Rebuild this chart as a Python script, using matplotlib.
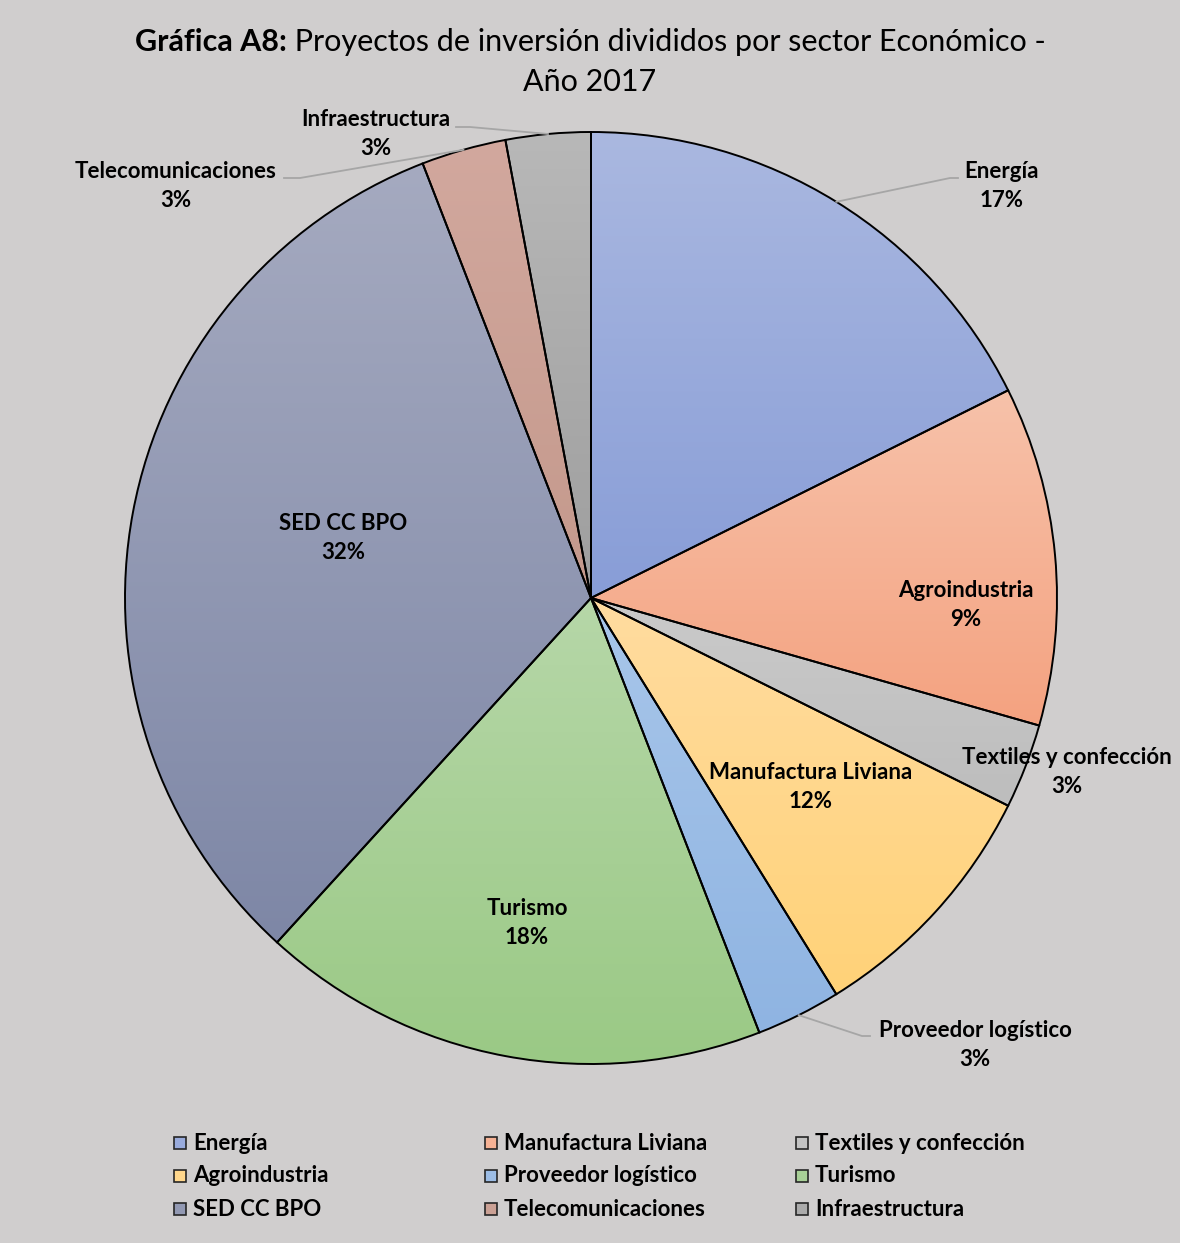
import matplotlib.pyplot as plt
import numpy as np
from matplotlib.colors import to_rgb
from matplotlib.patches import Rectangle

plt.rcParams['font.family'] = ['Lato', 'DejaVu Sans']

# categorias (orden de la leyenda) y numero de proyectos
categories = ['Energía', 'Manufactura Liviana', 'Textiles y confección',
              'Agroindustria', 'Proveedor logístico', 'Turismo',
              'SED CC BPO', 'Telecomunicaciones', 'Infraestructura']
values = [6, 4, 1, 3, 1, 6, 11, 1, 1]

# etiquetas que aparecen sobre cada porcion
slice_names = ['Energía', 'Agroindustria', 'Textiles y confección',
               'Manufactura Liviana', 'Proveedor logístico', 'Turismo',
               'SED CC BPO', 'Telecomunicaciones', 'Infraestructura']
slice_pcts = ['17%', '9%', '3%', '12%', '3%', '18%', '32%', '3%', '3%']

# degradado vertical de cada porcion (arriba, abajo)
top_colors = ['#AAB8E0', '#F7C2AA', '#CACACA', '#FFDCA0', '#A8C6EA',
              '#B6D7A8', '#A5AAC0', '#D2A89E', '#B8B8B8']
bottom_colors = ['#889DD7', '#F4A280', '#BDBDBD', '#FFD278', '#8FB4E2',
                 '#9AC985', '#7E87A6', '#C4998C', '#9E9E9E']

bg = '#D0CECE'
W, H = 1180, 1243

fig = plt.figure(figsize=(W / 100, H / 100), dpi=100, facecolor=bg)
ax = fig.add_axes([0, 0, 1, 1])
ax.set_facecolor(bg)

cx, cy, R = 591, 645, 466
wedges, _ = ax.pie(values, center=(cx, cy), radius=R, startangle=90,
                   counterclock=False, colors=top_colors,
                   wedgeprops=dict(edgecolor='black', linewidth=1.4))

# relleno con degradado recortado a cada porcion
t = np.linspace(0, 1, 256)[:, None, None]
for w, c1, c2 in zip(wedges, top_colors, bottom_colors):
    img = np.array(to_rgb(c1)) * (1 - t) + np.array(to_rgb(c2)) * t
    bb = w.get_path().get_extents()
    im = ax.imshow(img, extent=(bb.x0, bb.x1, bb.y0, bb.y1), origin='upper',
                   aspect='auto', interpolation='bilinear', zorder=1)
    im.set_clip_path(w)
    w.set_facecolor('none')
    w.set_zorder(2)

lab_font = dict(fontsize=16, fontweight='bold', color='black',
                ha='center', va='center', linespacing=1.5, zorder=4)

# posicion de cada etiqueta (pixeles) y codo de la linea guia
label_pos = [(1002, 1057), (966, 638), (1067, 471), (811, 456), (975, 198),
             (527, 320), (343, 705), (176, 1057), (376, 1109)]
leader = [(950, 1065, 958), None, None, None, (862, 207, 870),
          None, None, (300, 1065, 284), (470, 1116, 456)]

for i, w in enumerate(wedges):
    x, y = label_pos[i]
    ax.text(x, y, slice_names[i] + '\n' + slice_pcts[i], **lab_font)
    if leader[i] is not None:
        ang = np.deg2rad((w.theta1 + w.theta2) / 2)
        ax_, ay_ = cx + R * np.cos(ang), cy + R * np.sin(ang)
        ex, ey, hx = leader[i]
        ax.plot([ax_, ex, hx], [ay_, ey, ey], color='#A6A6A6', lw=1.3,
                zorder=3, solid_joinstyle='miter')

# titulo
r = fig.canvas.get_renderer()
t1 = ax.text(0, 1201, 'Gráfica A8:', fontsize=22, fontweight='bold',
             va='center', ha='left')
t2 = ax.text(0, 1201, ' Proyectos de inversión divididos por sector Económico -',
             fontsize=22, va='center', ha='left')
w1 = t1.get_window_extent(r).width
w2 = t2.get_window_extent(r).width
x0 = 590 - (w1 + w2) / 2
t1.set_x(x0)
t2.set_x(x0 + w1)
ax.text(590, 1161, 'Año 2017', fontsize=22, ha='center', va='center')

# leyenda
leg_x = [180, 491, 802]
leg_y = [100, 67, 34]
leg_colors = [np.array(to_rgb(a)) * 0.5 + np.array(to_rgb(b)) * 0.5
              for a, b in zip(top_colors, bottom_colors)]
for i, name in enumerate(categories):
    lx, ly = leg_x[i % 3], leg_y[i // 3]
    ax.add_patch(Rectangle((lx - 6, ly - 6), 12, 12, facecolor=leg_colors[i],
                           edgecolor='#262626', lw=1.2, zorder=3))
    ax.text(lx + 13, ly, name, fontsize=16, fontweight='bold',
            ha='left', va='center')

ax.set_xlim(0, W)
ax.set_ylim(0, H)
ax.set_aspect('auto')
ax.axis('off')

fig.savefig('out.png', dpi=100, facecolor=bg)
